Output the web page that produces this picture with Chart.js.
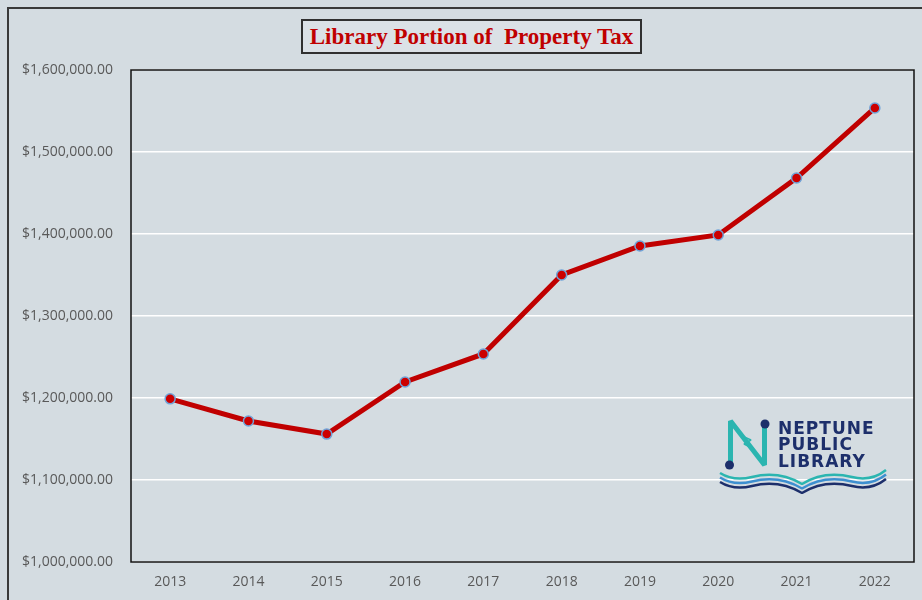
<!DOCTYPE html>
<html>
<head>
<meta charset="utf-8">
<title>Library Portion of Property Tax</title>
<script src="https://cdn.jsdelivr.net/npm/chart.js@4"></script>
<style>
  html, body { margin: 0; padding: 0; background: #d4dce1; }
  #wrap { position: relative; width: 922px; height: 600px; }
  #title {
    position: absolute; left: 301px; top: 19px; width: 337px; height: 31px;
    border: 2px solid #303030; background: #dbe1e6;
    font-family: "Liberation Serif", "DejaVu Serif", serif; font-weight: bold;
    font-size: 23px; color: #c00000; text-align: center; line-height: 31px;
  }
</style>
</head>
<body>
<div id="wrap">
  <canvas id="myChart" width="922" height="600"></canvas>
  <div id="title">Library Portion of&nbsp; Property Tax</div>
</div>
<script>
// dados
const years = ['2013', '2014', '2015', '2016', '2017', '2018', '2019', '2020', '2021', '2022'];
const taxValues = [1199000, 1172000, 1156000, 1219500, 1253700, 1350000, 1385400, 1398800, 1468300, 1553700];
const yMin = 1000000;
const yMax = 1600000;
const yStep = 100000;

function money(v) {
  return '$' + v.toLocaleString('en-US', { minimumFractionDigits: 2, maximumFractionDigits: 2 });
}

// moldura externa + borda da area do grafico
const frame = {
  id: 'frame',
  beforeDraw(chart) {
    const ctx = chart.ctx;
    ctx.save();
    ctx.strokeStyle = '#3a3a3a';
    ctx.lineWidth = 2;
    ctx.beginPath();
    ctx.moveTo(8, 610);
    ctx.lineTo(8, 8);
    ctx.lineTo(930, 8);
    ctx.stroke();
    ctx.restore();
  },
  beforeDatasetsDraw(chart) {
    const a = chart.chartArea;
    const ctx = chart.ctx;
    ctx.save();
    ctx.strokeStyle = '#111';
    ctx.lineWidth = 1.5;
    ctx.strokeRect(a.left, a.top, a.right - a.left, a.bottom - a.top);
    ctx.restore();
  }
};

// logo da biblioteca
const logo = {
  id: 'logo',
  afterDatasetsDraw(chart) {
    const ctx = chart.ctx;
    ctx.save();
    // N
    ctx.strokeStyle = '#2bb5b0';
    ctx.lineWidth = 5;
    ctx.lineJoin = 'bevel';
    ctx.beginPath();
    ctx.moveTo(730.5, 463);
    ctx.lineTo(730.5, 421);
    ctx.lineTo(764.5, 465);
    ctx.lineTo(764.5, 425);
    ctx.stroke();
    // raio no meio
    ctx.lineWidth = 1.5;
    ctx.beginPath();
    ctx.moveTo(742, 436);
    ctx.lineTo(751, 440);
    ctx.lineTo(744, 444);
    ctx.lineTo(754, 449);
    ctx.stroke();
    ctx.fillStyle = '#1d2f6b';
    ctx.beginPath();
    ctx.arc(765, 424, 4.5, 0, Math.PI * 2);
    ctx.fill();
    ctx.beginPath();
    ctx.arc(729.5, 465, 4.5, 0, Math.PI * 2);
    ctx.fill();
    // texto
    ctx.font = 'bold 17px "DejaVu Sans", sans-serif';
    ctx.fillStyle = '#1d2f6b';
    ctx.textBaseline = 'alphabetic';
    ctx.letterSpacing = '1px';
    ctx.fillText('NEPTUNE', 778, 434);
    ctx.fillText('PUBLIC', 778, 450);
    ctx.fillText('LIBRARY', 778, 467);
    // ondas
    const waves = [['#2bb5b0', 0], ['#3d8fd0', 4.5], ['#1d2f6b', 9]];
    waves.forEach(function (w) {
      const d = w[1];
      ctx.strokeStyle = w[0];
      ctx.lineWidth = 2.5;
      ctx.beginPath();
      ctx.moveTo(720, 473 + d);
      ctx.bezierCurveTo(728, 478 + d, 740, 480 + d, 752, 477 + d);
      ctx.bezierCurveTo(768, 473 + d, 785, 474 + d, 802, 484 + d);
      ctx.bezierCurveTo(818, 474 + d, 836, 473 + d, 852, 477 + d);
      ctx.bezierCurveTo(864, 480 + d, 876, 478 + d, 886, 470 + d);
      ctx.stroke();
    });
    ctx.restore();
  }
};

const data = {
  labels: years,
  datasets: [{
    label: 'Library Portion of Property Tax',
    data: taxValues,
    borderColor: '#c00000',
    borderWidth: 5,
    backgroundColor: '#c00000',
    pointBackgroundColor: '#cc0000',
    pointBorderColor: '#6fa3d8',
    pointBorderWidth: 1.5,
    pointRadius: 5,
    tension: 0
  }]
};

const config = {
  type: 'line',
  data: data,
  options: {
    responsive: false,
    animation: false,
    layout: { padding: { top: 70, right: 8, left: 0, bottom: 0 } },
    plugins: {
      legend: { display: false },
      title: { display: false },
      tooltip: { enabled: false }
    },
    scales: {
      x: {
        offset: true,
        grid: { display: false, drawTicks: false },
        border: { display: false },
        ticks: {
          color: '#595959',
          padding: 12,
          font: { family: '"Open Sans", "DejaVu Sans", sans-serif', size: 14 }
        },
        afterFit(scale) { scale.height = 38; }
      },
      y: {
        min: yMin,
        max: yMax,
        grid: { color: '#ffffff', lineWidth: 1.5, drawTicks: false },
        border: { display: false },
        ticks: {
          stepSize: yStep,
          color: '#595959',
          padding: 18,
          font: { family: '"Open Sans", "DejaVu Sans", sans-serif', size: 14 },
          callback: function (v) { return money(v); }
        },
        afterFit(scale) { scale.width = 131; }
      }
    }
  },
  plugins: [frame, logo]
};

const myChart = new Chart(document.getElementById('myChart'), config);
</script>
</body>
</html>
